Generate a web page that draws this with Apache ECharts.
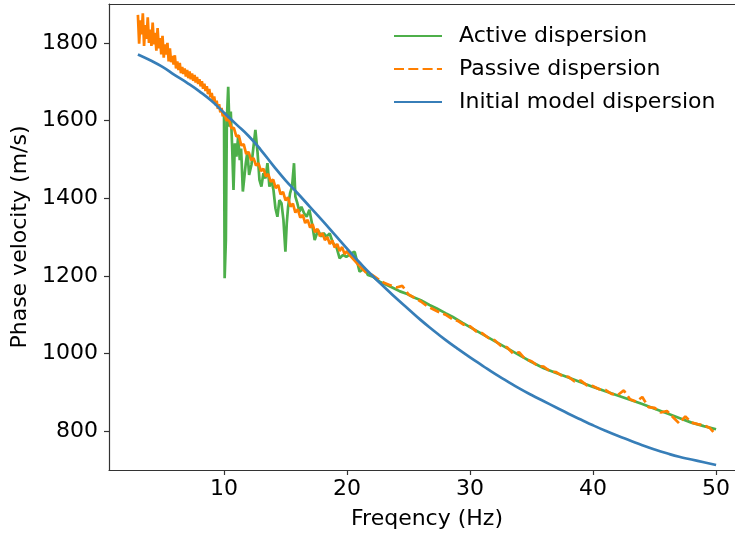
<!DOCTYPE html>
<html>
<head>
<meta charset="utf-8">
<script src="https://cdn.jsdelivr.net/npm/echarts@6/dist/echarts.min.js"></script>
<style>
html,body{margin:0;padding:0;background:#fff;}
#chart{width:735px;height:533px;}
</style>
</head>
<body>
<div id="chart"></div>
<script>
// ---- Data ----
const xTicks = [10, 20, 30, 40, 50];
const yTicks = [800, 1000, 1200, 1400, 1600, 1800];

const activeFreq = [10.0,10.05,10.15,10.23,10.34,10.44,10.55,10.66,10.77,10.88,11.01,11.15,11.28,11.39,11.53,11.66,11.77,11.9,12.04,12.23,12.39,12.55,12.72,12.88,13.04,13.2,13.37,13.53,13.69,13.85,14.02,14.18,14.34,14.5,14.67,14.83,14.99,15.1,15.21,15.37,15.53,15.69,15.8,15.96,16.13,16.29,16.51,16.72,16.94,17.15,17.37,17.64,17.91,18.1,18.32,18.59,18.86,19.13,19.4,19.67,19.94,20.35,20.62,21.02,21.43,21.7,22.1,22.65,23.2,23.8,24.3,24.9,25.4,26.0,26.7,27.3,28.0,28.6,29.4,30,31,32,33,34,35,36,37,38,39,40,41,42,43,44,45,46,47,48,49,50];
const activeVel = [1620,1194,1292,1601,1687,1584,1623,1533,1421,1541,1507,1559,1498,1528,1417,1412,1490,1520,1460,1486,1490,1576,1520,1447,1430,1464,1451,1490,1430,1447,1421,1374,1352,1395,1387,1344,1262,1335,1378,1413,1430,1490,1404,1387,1365,1378,1361,1352,1370,1335,1292,1318,1301,1310,1301,1309,1284,1275,1245,1254,1249,1258,1262,1211,1219,1202,1198,1185,1177,1168,1160,1153,1145,1137,1125,1116,1104,1094,1079,1068,1050,1032,1014,996,978,962,950,938,926,914,903,892,881,870,858,846,834,822,813,805];

const passiveFreq = [3.0,3.1,3.2,3.3,3.4,3.5,3.6,3.7,3.8,3.9,4.0,4.1,4.2,4.3,4.4,4.5,4.6,4.7,4.8,4.9,5.0,5.1,5.2,5.3,5.4,5.5,5.6,5.7,5.8,5.9,6.0,6.1,6.2,6.3,6.4,6.5,6.6,6.7,6.8,6.9,7.0,7.1,7.2,7.3,7.4,7.5,7.6,7.7,7.8,7.9,8.0,8.1,8.2,8.3,8.4,8.5,8.6,8.7,8.8,8.9,9.0,9.1,9.2,9.3,9.4,9.5,9.6,9.7,9.8,9.9,10.0,10.2,10.4,10.6,10.8,11.0,11.2,11.4,11.6,11.8,12.0,12.2,12.4,12.6,12.8,13.0,13.2,13.4,13.6,13.8,14.0,14.2,14.4,14.6,14.8,15.0,15.2,15.4,15.6,15.8,16.0,16.2,16.4,16.6,16.8,17.0,17.2,17.4,17.6,17.8,18.0,18.2,18.4,18.6,18.8,19.0,19.2,19.4,19.6,19.8,20.0,20.3,20.6,21.0,21.5,22.0,22.5,23.0,23.5,24.0,24.5,25.0,25.5,26.0,26.5,27.0,27.5,28.0,28.5,29.0,29.5,30.0,30.5,31.0,31.5,32.0,32.5,33.0,33.5,34.0,34.5,35.0,35.5,36.0,36.5,37.0,37.5,38.0,38.5,39.0,39.5,40.0,40.5,41.0,41.5,42.0,42.5,43.0,43.5,44.0,44.5,45.0,45.5,46.0,46.5,47.0,47.5,48.0,48.5,49.0,49.5,50.0];
const passiveVel = [1872,1798,1858,1822,1876,1792,1846,1810,1866,1800,1834,1792,1852,1796,1826,1780,1838,1786,1812,1770,1818,1762,1796,1770,1800,1752,1786,1750,1766,1744,1768,1734,1752,1730,1748,1722,1738,1720,1734,1713,1730,1709,1726,1706,1721,1702,1717,1698,1712,1694,1706,1688,1701,1682,1695,1676,1688,1668,1681,1660,1671,1650,1662,1640,1651,1630,1642,1621,1632,1611,1621,1600,1603,1580,1581,1559,1561,1536,1539,1514,1519,1498,1503,1484,1490,1470,1476,1456,1462,1442,1448,1426,1434,1410,1416,1394,1402,1378,1386,1363,1371,1350,1357,1336,1344,1324,1333,1312,1321,1302,1310,1292,1300,1282,1291,1273,1282,1264,1274,1256,1264,1250,1240,1226,1210,1203,1192,1182,1176,1170,1174,1152,1143,1134,1122,1114,1106,1100,1090,1084,1074,1070,1057,1052,1040,1034,1020,1016,1000,1003,985,980,968,966,954,952,942,940,928,930,918,916,908,906,896,893,905,882,876,888,862,860,848,852,836,820,838,822,818,815,808,790];

const modelFreq = [3,4,5,6,7,8,9,10,11,12,13,14,15,16,17,18,19,20,21,22,23,24,25,26,27,28,29,30,31,32,33,34,35,36,37,38,39,40,41,42,43,44,45,46,47,48,49,50];
const modelVel = [1770,1755,1738,1717,1697,1675,1650,1620,1590,1560,1524,1484,1446,1412,1377,1342,1306,1270,1235,1202,1172,1142,1114,1086,1060,1035,1012,990,969,948,929,910,893,877,861,845,830,815,801,788,776,764,753,743,734,727,720,713];

const seriesNames = ['Active dispersion', 'Passive dispersion', 'Initial model dispersion'];

function zip(a, b) { return a.map((v, i) => [v, b[i]]); }
// dense low-frequency part of passive curve (overlapping dashes look solid in the reference)
const passiveAll = zip(passiveFreq, passiveVel);
const passiveDense = passiveAll.filter(p => p[0] <= 21);
const passiveSparse = passiveAll.filter(p => p[0] >= 21);

const FONT = 'DejaVu Sans';
const SPINE = {color: '#333333', width: 1.2};
const chart = echarts.init(document.getElementById('chart'), null, {renderer: 'canvas'});
chart.setOption({
  animation: false,
  backgroundColor: '#ffffff',
  grid: {left: 109, top: 4, width: 636, height: 466, containLabel: false, outerBoundsMode: 'none'},
  legend: {
    orient: 'vertical', left: 393, top: 25, padding: 0, itemWidth: 48, itemHeight: 14, itemGap: 11,
    textStyle: {fontFamily: FONT, fontSize: 22, color: '#000', padding: [0,0,0,12]},
    itemStyle: {opacity: 0},
    data: seriesNames
  },
  xAxis: [{
    type: 'value', min: 0.65, max: 52.35,
    name: 'Freqency (Hz)', nameLocation: 'middle', nameGap: 38,
    nameTextStyle: {fontFamily: FONT, fontSize: 22, color: '#000'},
    axisLine: {show: true, onZero: false, lineStyle: SPINE},
    axisTick: {show: true, length: 5, customValues: xTicks, lineStyle: SPINE},
    axisLabel: {customValues: xTicks, fontFamily: FONT, fontSize: 22, color: '#000', margin: 8,
                formatter: v => String(v)},
    splitLine: {show: false}
  }, {
    type: 'value', position: 'top', min: 0.65, max: 52.35,
    axisLine: {show: true, onZero: false, lineStyle: SPINE},
    axisTick: {show: false}, axisLabel: {show: false}, splitLine: {show: false}
  }],
  yAxis: {
    type: 'value', min: 700, max: 1900,
    name: 'Phase velocity (m/s)', nameLocation: 'middle', nameGap: 68,
    nameTextStyle: {fontFamily: FONT, fontSize: 22, color: '#000'},
    axisLine: {show: true, onZero: false, lineStyle: SPINE},
    axisTick: {show: true, length: 5, customValues: yTicks, lineStyle: SPINE},
    axisLabel: {customValues: yTicks, fontFamily: FONT, fontSize: 22, color: '#000', margin: 11,
                formatter: v => String(v)},
    splitLine: {show: false}
  },
  series: [
    {name: seriesNames[0], type: 'line', data: zip(activeFreq, activeVel), symbol: 'none', color: '#4daf4a',
     lineStyle: {width: 2.7, color: '#4daf4a'}},
    {name: seriesNames[1], type: 'line', data: passiveSparse, symbol: 'none', color: '#ff7f00',
     lineStyle: {width: 2.7, color: '#ff7f00', type: [10, 4.3]}},
    {name: seriesNames[1], type: 'line', data: passiveDense, symbol: 'none', color: '#ff7f00',
     lineStyle: {width: 2.7, color: '#ff7f00'}},
    {name: seriesNames[2], type: 'line', data: zip(modelFreq, modelVel), symbol: 'none', smooth: true, color: '#377eb8',
     lineStyle: {width: 2.7, color: '#377eb8'}}
  ]
});
</script>
</body>
</html>
